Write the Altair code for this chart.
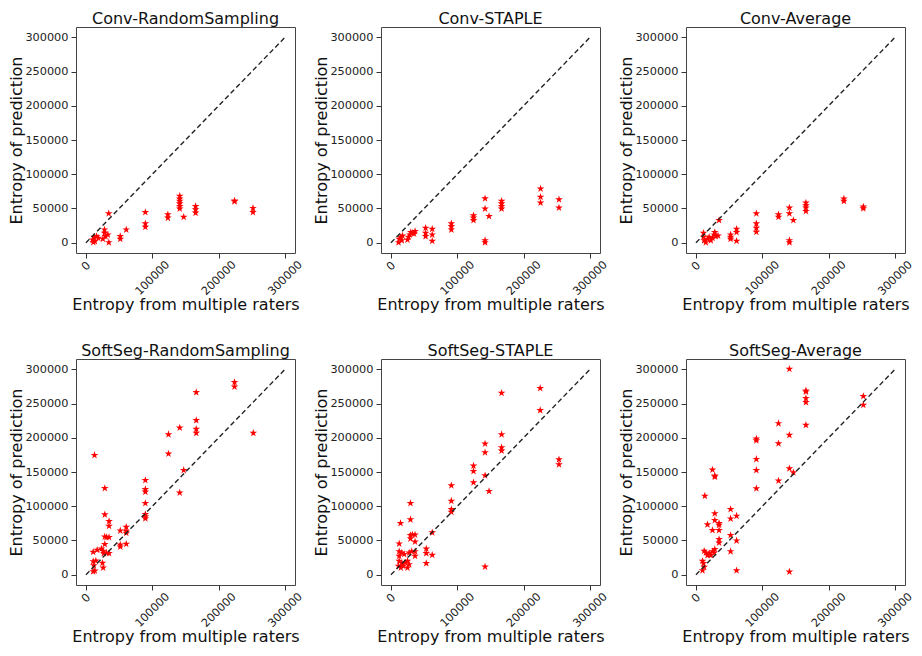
import altair as alt
import pandas as pd

# ---------------- data ----------------
panel_titles = [
    "Conv-RandomSampling", "Conv-STAPLE", "Conv-Average",
    "SoftSeg-RandomSampling", "SoftSeg-STAPLE", "SoftSeg-Average",
]

conv_rs_x = [10000, 12000, 13500, 16000, 11000, 18500, 28000, 28000, 29500, 25500, 33000, 34500, 34300,
             51700, 51700, 60700, 89500, 89500, 89500, 123400, 123400,
             141300, 141300, 141300, 141300, 141300, 141300, 147300, 165200, 165200, 165200,
             223900, 223900, 251700, 251700]
conv_rs_y = [4500, 8300, 2000, 9300, 600, 6800, 19100, 14200, 9300, 5400, 11800, 500, 42600,
             9300, 5400, 19100, 44600, 27900, 23000, 41200, 36300,
             68100, 64200, 60800, 57300, 53400, 49500, 37700, 53400, 48500, 43600,
             61300, 60300, 50500, 44600]

conv_st_x = [11400, 12400, 14900, 17400, 16400, 24900, 26400, 28400, 29900, 32300, 34800, 36300,
             52200, 52200, 52200, 62200, 62200, 62200, 91000, 91000, 91000,
             124400, 124400, 124400, 141800, 141800, 141800, 141800, 147800,
             166700, 166700, 166700, 166700, 225400, 225400, 225400, 253200, 253200]
conv_st_y = [500, 5400, 8300, 10300, 3400, 4400, 8300, 11800, 15200, 14200, 13200, 16600,
             21600, 14200, 9300, 20100, 11800, 2500, 27900, 24000, 19100,
             39700, 36300, 32800, 64700, 49500, 3400, 500, 38700,
             60800, 57400, 53400, 49500, 78900, 66700, 58300, 63200, 51000]

conv_av_x = [11400, 11400, 12400, 14900, 17400, 19900, 22400, 24900, 27400, 28400, 29900, 33300, 34800,
             52200, 52200, 52200, 61200, 61200, 61200, 91000, 91000, 91000, 91000,
             124400, 124400, 140800, 140800, 140800, 140800, 146800,
             165700, 165700, 165700, 165700, 222900, 222900, 252200, 252200]
conv_av_y = [14200, 8300, 3400, 500, 5400, 8300, 3400, 6800, 11800, 15200, 9300, 10300, 32800,
             11800, 8300, 5400, 20100, 15200, 2500, 42600, 27900, 21600, 15700,
             41200, 37700, 51000, 42600, 3400, 500, 32800,
             58300, 54400, 51000, 46100, 64200, 60800, 52500, 50000]

soft_rs_x = [12900, 28400, 28400, 34800, 34800, 28400, 30900, 34800, 28400,
             10900, 16900, 23400, 25900, 26900, 30900, 34800,
             10900, 14900, 11900, 24900, 25900, 10900, 13400,
             51700, 51700, 51700, 60700, 60700, 60700, 60700,
             89500, 89500, 89500, 89500, 89500, 89500, 89500,
             124400, 124400, 141300, 141300, 147300,
             166200, 166200, 166200, 166200, 223900, 223900, 252200]
soft_rs_y = [174600, 126300, 87800, 78000, 71200, 55600, 54600, 54600, 44400,
             33200, 36100, 38000, 34600, 31200, 32200, 31200,
             19500, 20500, 13600, 17100, 10200, 4900, 5900,
             64400, 43900, 41000, 69800, 63900, 61000, 44900,
             138000, 124900, 121000, 104400, 88300, 84900, 82000,
             204900, 176600, 214600, 119800, 152700,
             266300, 225400, 212700, 206800, 281000, 274600, 206800]

soft_st_x = [14400, 29400, 29400, 29400, 32300, 36300, 29400, 36300, 12400,
             12400, 16400, 19900, 27400, 31300, 36300, 36300,
             12400, 12400, 16400, 21400, 24900, 27400, 11400, 14900, 18400, 24900,
             53200, 53200, 53200, 62200, 62200,
             91000, 91000, 91000, 91000, 124400, 124400, 124400,
             141800, 141800, 141800, 141800, 147800,
             166700, 166700, 166700, 166700, 224900, 224900, 253200, 253200]
soft_st_y = [75100, 104400, 80500, 57500, 58500, 58500, 52700, 48300, 45400,
             34100, 32200, 29800, 32200, 34100, 34100, 27300,
             27300, 20000, 16600, 17600, 20000, 15100, 12700, 10200, 12700, 10200,
             38000, 31200, 16600, 61500, 28800,
             130200, 107800, 95600, 91700, 159000, 151200, 134600,
             191200, 178500, 144900, 11700, 122000,
             265400, 204900, 185900, 181000, 272200, 240000, 168300, 161000]

soft_av_x = [140800, 165700, 165700, 165700, 165700, 165700, 252200, 252200,
             124400, 124400, 140800, 91000, 91000, 91000, 91000, 91000,
             140800, 146800, 124400, 24900, 28400, 28400, 13400,
             52200, 52200, 52200, 52200, 61200, 61200, 61200,
             28400, 28400, 34800, 34800, 34800, 34800, 34800, 17400, 24900,
             12400, 14900, 19900, 24900, 28400, 17400, 22400, 27400,
             9900, 11400, 12400, 9900, 140800]
soft_av_y = [300500, 268800, 267300, 257600, 251700, 218500, 260500, 247800,
             221000, 191700, 203900, 198500, 196100, 168800, 152700, 125900,
             155100, 149300, 137100, 153200, 144400, 142900, 115100,
             95600, 81900, 57600, 34100, 85900, 49800, 6300,
             89300, 79500, 75100, 72700, 64900, 51700, 46800, 73200, 64900,
             34600, 32200, 31200, 34100, 37100, 28300, 28300, 32200,
             20000, 16600, 11200, 6300, 4400]

panel_x = [conv_rs_x, conv_st_x, conv_av_x, soft_rs_x, soft_st_x, soft_av_x]
panel_y = [conv_rs_y, conv_st_y, conv_av_y, soft_rs_y, soft_st_y, soft_av_y]

diag = [0, 300000]
x_ticks = [0, 100000, 200000, 300000]
y_ticks = [0, 50000, 100000, 150000, 200000, 250000, 300000]
domain = [-15000, 315000]

STAR = ("M0,-1L0.2245,-0.309L0.951,-0.309L0.363,0.118L0.588,0.809L0,0.382"
        "L-0.588,0.809L-0.363,0.118L-0.951,-0.309L-0.2245,-0.309Z")

FONT = "DejaVu Sans"


def panel(title, xs, ys):
    df = pd.DataFrame({"x": xs, "y": ys})
    ld = pd.DataFrame({"x": diag, "y": diag})
    xsc = alt.Scale(domain=domain, nice=False, zero=False)
    ysc = alt.Scale(domain=domain, nice=False, zero=False)
    xax = alt.Axis(values=x_ticks, format="d", labelAngle=-45, labelAlign="center",
                   labelBaseline="middle",
                   labelPadding={"condition": {"test": "datum.value == 0", "value": 8}, "value": 20},
                   title="Entropy from multiple raters")
    yax = alt.Axis(values=y_ticks, format="d", title="Entropy of prediction")
    pts = alt.Chart(df).mark_point(shape=STAR, filled=True, color="#ff0000", size=65, opacity=1).encode(
        x=alt.X("x:Q", scale=xsc, axis=xax),
        y=alt.Y("y:Q", scale=ysc, axis=yax),
    )
    line = alt.Chart(ld).mark_line(color="#222222", strokeDash=[5, 3], strokeWidth=1.4).encode(
        x=alt.X("x:Q", scale=xsc, axis=xax),
        y=alt.Y("y:Q", scale=ysc, axis=yax),
    )
    return alt.layer(pts, line).properties(
        width=219, height=226,
        title=alt.TitleParams(title, font=FONT, fontSize=16, fontWeight="normal", color="#111111", offset=0),
    )


panels = [panel(t, x, y) for t, x, y in zip(panel_titles, panel_x, panel_y)]

chart = alt.concat(*panels, columns=3, spacing={"row": 106, "column": 86}, bounds="flush").properties(
    padding={"left": 0, "top": 2, "right": -1, "bottom": 3}
).configure_view(
    stroke="#444444", strokeWidth=1
).configure_axis(
    grid=False, domain=False, tickSize=5, tickColor="#333333", tickWidth=1,
    labelFont=FONT, labelFontSize=11.3, labelColor="#222222", labelPadding=3,
    titleFont=FONT, titleFontSize=16, titleFontWeight="normal", titleColor="#111111",
).configure_axisX(
    titlePadding=0
).configure_axisY(
    titlePadding=0
)

chart.save("out.html", embed_options={"renderer": "svg", "actions": False})
